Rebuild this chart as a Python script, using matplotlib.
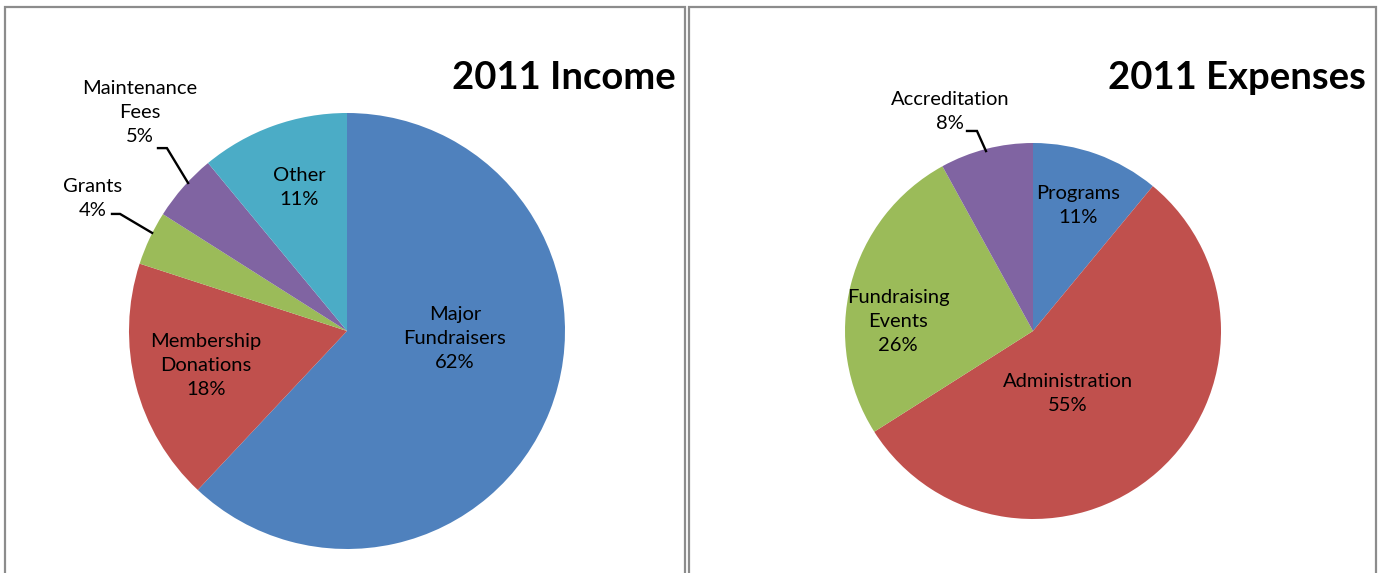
import matplotlib.pyplot as plt
from matplotlib.patches import Rectangle

plt.rcParams['font.family'] = ['Lato', 'DejaVu Sans']

# Income data (clockwise from 12 o'clock)
income_labels = ['Major\nFundraisers', 'Membership\nDonations', 'Grants', 'Maintenance\nFees', 'Other']
income_values = [62, 18, 4, 5, 11]

# Expense data (clockwise from 12 o'clock)
expense_labels = ['Programs', 'Administration', 'Fundraising\nEvents', 'Accreditation']
expense_values = [11, 55, 26, 8]

blue, red, green, purple, teal = '#4F81BD', '#C0504D', '#9BBB59', '#8064A2', '#4BACC6'
income_colors = [blue, red, green, purple, teal]
expense_colors = [blue, red, green, purple]

W, H = 1380, 573
fig = plt.figure(figsize=(W / 100, H / 100), dpi=100)


def pie_axes(cx, cy, r):
    # cx, cy in image pixels (y from top), r radius in pixels
    ax = fig.add_axes([(cx - r) / W, (H - cy - r) / H, 2 * r / W, 2 * r / H])
    ax.set_xlim(-1, 1)
    ax.set_ylim(-1, 1)
    ax.set_aspect('equal')
    ax.axis('off')
    return ax


def draw_pie(ax, values, colors):
    ax.pie(values, colors=colors, startangle=90, counterclock=False, radius=1,
           wedgeprops=dict(linewidth=0), frame=False)
    ax.set_xlim(-1, 1)
    ax.set_ylim(-1, 1)


def label(ax, name, value, x, y):
    ax.text(x, y, f'{name}\n{value}%', ha='center', va='center', fontsize=14.5,
            multialignment='center', linespacing=1.5, clip_on=False)


def leader(ax, pts):
    xs, ys = zip(*pts)
    ax.plot(xs, ys, color='black', lw=1.7, clip_on=False, solid_joinstyle='miter')


# panel borders
for x0, x1 in [(5, 685), (689, 1376)]:
    fig.add_artist(Rectangle((x0 / W, -0.05), (x1 - x0) / W, (H - 7) / H + 0.05,
                             transform=fig.transFigure, fill=False,
                             edgecolor='#8c8c8c', linewidth=1.6))

# Income pie
ax1 = pie_axes(347, 331, 218)
draw_pie(ax1, income_values, income_colors)
label(ax1, income_labels[0], income_values[0], 0.495, -0.035)
label(ax1, income_labels[1], income_values[1], -0.647, -0.156)
label(ax1, income_labels[4], income_values[4], -0.22, 0.66)
label(ax1, income_labels[3], income_values[3], -0.95, 1.0)
label(ax1, income_labels[2], income_values[2], -1.165, 0.61)
leader(ax1, [(-0.867, 0.839), (-0.826, 0.839), (-0.729, 0.679)])
leader(ax1, [(-1.078, 0.537), (-1.041, 0.537), (-0.894, 0.450)])

# Expense pie
ax2 = pie_axes(1033, 331, 188)
draw_pie(ax2, expense_values, expense_colors)
label(ax2, expense_labels[0], expense_values[0], 0.24, 0.665)
label(ax2, expense_labels[1], expense_values[1], 0.186, -0.33)
label(ax2, expense_labels[2], expense_values[2], -0.718, 0.048)
label(ax2, expense_labels[3], expense_values[3], -0.44, 1.17)
leader(ax2, [(-0.351, 1.064), (-0.298, 1.064), (-0.25, 0.957)])

# titles
fig.text(676 / W, 1 - 78 / H, '2011 Income', ha='right', va='center',
         fontsize=27.5, fontweight='bold')
fig.text(1366 / W, 1 - 78 / H, '2011 Expenses', ha='right', va='center',
         fontsize=27.5, fontweight='bold')

fig.savefig('out.png', dpi=100, facecolor='white')
